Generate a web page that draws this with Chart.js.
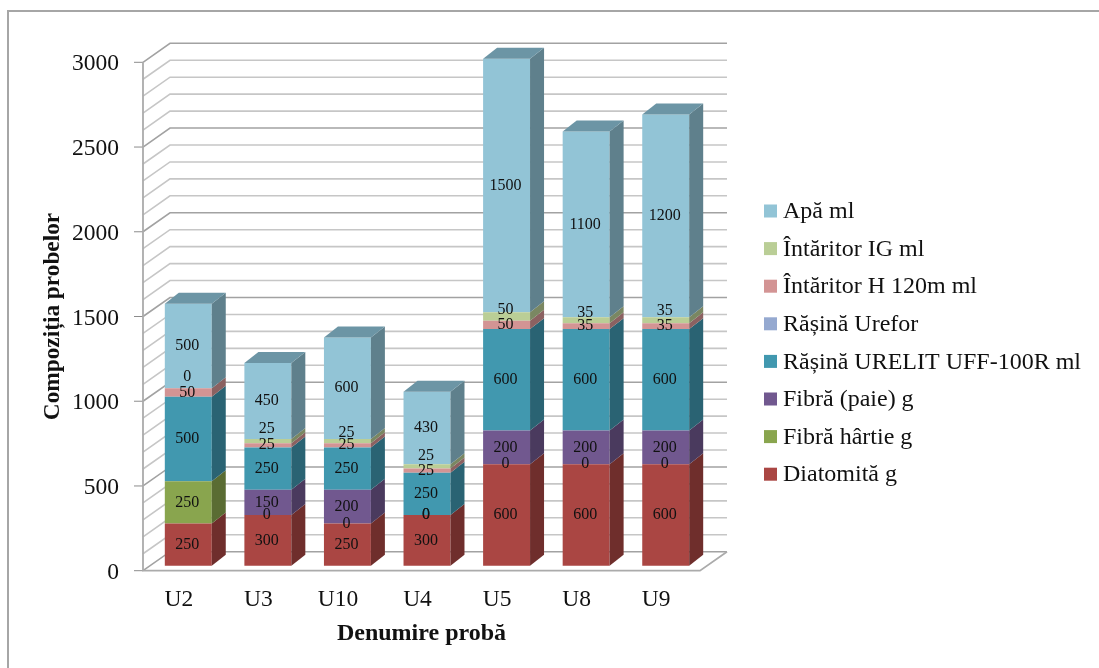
<!DOCTYPE html>
<html lang="ro">
<head>
<meta charset="utf-8">
<title>Compoziția probelor</title>
<style>
  html, body { margin: 0; padding: 0; background: #fff; }
  canvas { display: block; }
</style>
<script src="https://cdn.jsdelivr.net/npm/chart.js@4/dist/chart.umd.js"></script>
</head>
<body>
<canvas id="c" width="1099" height="668"></canvas>
<script>
// Sample names
const categories = ['U2', 'U3', 'U10', 'U4', 'U5', 'U8', 'U9'];

// Composition of each sample, bottom of the stack first; null = no label and no segment
const diatomita = [250, 300, 250, 300, 600, 600, 600];
const fibraHartie = [250, 0, 0, 0, 0, 0, 0];
const fibraPaie = [null, 150, 200, 0, 200, 200, 200];
const rasinaUrelit = [500, 250, 250, 250, 600, 600, 600];
const rasinaUrefor = [null, null, null, null, null, null, null];
const intaritorH = [50, 25, 25, 25, 50, 35, 35];
const intaritorIG = [0, 25, 25, 25, 50, 35, 35];
const apa = [500, 450, 600, 430, 1500, 1100, 1200];

const seriesNames = ['Diatomită g', 'Fibră hârtie g', 'Fibră (paie) g', 'Rășină URELIT UFF-100R ml',
  'Rășină Urefor', 'Întăritor H 120m ml', 'Întăritor IG ml', 'Apă ml'];
const seriesValues = [diatomita, fibraHartie, fibraPaie, rasinaUrelit, rasinaUrefor, intaritorH, intaritorIG, apa];
const frontColors = ['#AA4643', '#89A54E', '#71588F', '#4198AF', '#95A9D0', '#D39494', '#BACE96', '#92C4D6'];
const sideColors = ['#6F2E2C', '#5A6C33', '#4A3A5E', '#2A6373', '#616F89', '#8B6161', '#7A8762', '#5F808C'];
const topColors = ['#83362F', '#6A803C', '#57446F', '#327688', '#74839F', '#A37272', '#909F74', '#6C95A5'];
const yTickStep = 100;
const yLabelStep = 500;

const FONT = '"Liberation Serif", "Times New Roman", serif';
const DEPTH_X = 27, DEPTH_Y = 19;       // offset of the back wall from the front plane
const BAR_DX = 5.5, BAR_DY = -5, BAR_K = 0.9972; // bars stand slightly inside the floor
const BAR_DEPTH_X = 14, BAR_DEPTH_Y = 11;
// The hardener IG labels are lifted clear of the H labels, bar by bar
const igLabelLift = [11, 12, 8, 11, 7, 7, 9];

// Floor, side wall and back wall with their gridlines
function drawWalls(chart) {
  const { ctx, scales: { x, y } } = chart;
  const left = x.left, right = x.right, base = y.getPixelForValue(0);
  ctx.save();
  ctx.lineCap = 'butt';
  y.ticks.forEach(t => {
    const py = y.getPixelForValue(t.value);
    const major = t.value % yLabelStep === 0;
    ctx.strokeStyle = major ? '#a2a2a2' : '#c6c6c6';
    ctx.lineWidth = 1.6;
    ctx.beginPath();
    ctx.moveTo(left, py);
    ctx.lineTo(left + DEPTH_X, py - DEPTH_Y);
    ctx.lineTo(right + DEPTH_X, py - DEPTH_Y);
    ctx.stroke();
    if (major) {
      ctx.strokeStyle = '#8c8c8c';
      ctx.lineWidth = 1;
      ctx.beginPath();
      ctx.moveTo(left - 9, py);
      ctx.lineTo(left, py);
      ctx.stroke();
    }
  });
  ctx.strokeStyle = '#ababab';
  ctx.lineWidth = 1.8;
  ctx.beginPath();
  ctx.moveTo(left, y.getPixelForValue(y.max));
  ctx.lineTo(left, base);
  ctx.lineTo(right, base);
  ctx.lineTo(right + DEPTH_X, base - DEPTH_Y);
  ctx.stroke();
  ctx.restore();
}

// Side and top faces built on the rectangles the bar controller laid out
function drawBarFaces(chart) {
  const ctx = chart.ctx;
  seriesValues.forEach((values, d) => {
    chart.getDatasetMeta(d).data.forEach((bar, i) => {
      if (values[i] === null) return;
      const p = bar.getProps(['x', 'y', 'base', 'width'], true);
      const r = p.x + p.width / 2;
      ctx.fillStyle = sideColors[d];
      ctx.beginPath();
      ctx.moveTo(r, p.base);
      ctx.lineTo(r + BAR_DEPTH_X, p.base - BAR_DEPTH_Y);
      ctx.lineTo(r + BAR_DEPTH_X, p.y - BAR_DEPTH_Y);
      ctx.lineTo(r, p.y);
      ctx.closePath();
      ctx.fill();
      if (d === seriesValues.length - 1) {
        const l = p.x - p.width / 2;
        ctx.fillStyle = topColors[d];
        ctx.beginPath();
        ctx.moveTo(l, p.y);
        ctx.lineTo(l + BAR_DEPTH_X, p.y - BAR_DEPTH_Y);
        ctx.lineTo(r + BAR_DEPTH_X, p.y - BAR_DEPTH_Y);
        ctx.lineTo(r, p.y);
        ctx.closePath();
        ctx.fill();
      }
    });
  });
}

// Value labels centred on their segments
function drawValueLabels(chart) {
  const ctx = chart.ctx;
  ctx.font = '16px ' + FONT;
  ctx.fillStyle = '#111';
  ctx.textAlign = 'center';
  ctx.textBaseline = 'middle';
  seriesValues.forEach((values, d) => {
    const lifted = seriesNames[d] === 'Întăritor IG ml';
    chart.getDatasetMeta(d).data.forEach((bar, i) => {
      if (values[i] === null) return;
      const p = bar.getProps(['x', 'y', 'base'], true);
      const cy = (p.y + p.base) / 2 - (lifted ? igLabelLift[i] : 0);
      ctx.fillText(String(values[i]), p.x - 1, cy);
    });
  });
}

// Legend column, top series first
function drawLegend(chart) {
  const ctx = chart.ctx;
  ctx.save();
  ctx.font = '24px ' + FONT;
  ctx.textAlign = 'left';
  ctx.textBaseline = 'middle';
  const order = seriesNames.map((_, i) => i).reverse();
  order.forEach((d, row) => {
    const cy = 211 + row * 37.6;
    ctx.fillStyle = frontColors[d];
    ctx.fillRect(764, cy - 6.5, 13, 13);
    ctx.fillStyle = '#111';
    ctx.fillText(seriesNames[d], 783, cy + 1);
  });
  ctx.restore();
}

const scene3d = {
  id: 'scene3d',
  beforeDraw(chart) {
    // Frame: only the top and left edges are ruled
    const ctx = chart.ctx;
    ctx.save();
    ctx.strokeStyle = '#a6a6a6';
    ctx.lineWidth = 2;
    ctx.beginPath();
    ctx.moveTo(8, 668);
    ctx.lineTo(8, 11);
    ctx.lineTo(1099, 11);
    ctx.stroke();
    ctx.restore();
  },
  beforeDatasetsDraw(chart) {
    drawWalls(chart);
    const ctx = chart.ctx;
    const base = chart.scales.y.getPixelForValue(0);
    ctx.save();
    ctx.transform(1, 0, 0, BAR_K, BAR_DX, base + BAR_DY - base * BAR_K);
  },
  afterDatasetsDraw(chart) {
    drawBarFaces(chart);
    drawValueLabels(chart);
    chart.ctx.restore();
    drawLegend(chart);
  }
};

new Chart(document.getElementById('c'), {
  type: 'bar',
  plugins: [scene3d],
  data: {
    labels: categories,
    datasets: seriesNames.map((name, d) => ({
      label: name,
      data: seriesValues[d],
      backgroundColor: frontColors[d],
      borderWidth: 0,
      clip: false,
      categoryPercentage: 1,
      barPercentage: 0.59
    }))
  },
  options: {
    responsive: false,
    animation: false,
    layout: { padding: { left: 0, top: 62.3, right: 399, bottom: 0 } },
    plugins: { legend: { display: false }, tooltip: { enabled: false } },
    scales: {
      x: {
        stacked: true,
        afterFit(s) { s.height = 97.3; },
        grid: { display: false, drawTicks: false },
        border: { display: false },
        ticks: { font: { family: FONT, size: 23.5 }, color: '#111', padding: 15, labelOffset: -4, maxRotation: 0 },
        title: {
          display: true, text: 'Denumire probă', color: '#111',
          font: { family: FONT, size: 24, weight: 'bold' },
          padding: { top: 0, bottom: 20 }
        }
      },
      y: {
        stacked: true,
        min: 0,
        max: 3000,
        afterFit(s) { s.width = 143; },
        grid: { display: false, drawTicks: false },
        border: { display: false },
        ticks: {
          stepSize: yTickStep,
          autoSkip: false,
          font: { family: FONT, size: 23.5 },
          color: '#111',
          padding: 24,
          labelOffset: 2,
          callback: v => (v % yLabelStep === 0 ? String(v) : '')
        },
        title: {
          display: true, text: 'Compoziția probelor', color: '#111',
          font: { family: FONT, size: 23.3, weight: 'bold' },
          padding: { top: 39, bottom: 0 }
        }
      }
    }
  }
});
</script>
</body>
</html>
